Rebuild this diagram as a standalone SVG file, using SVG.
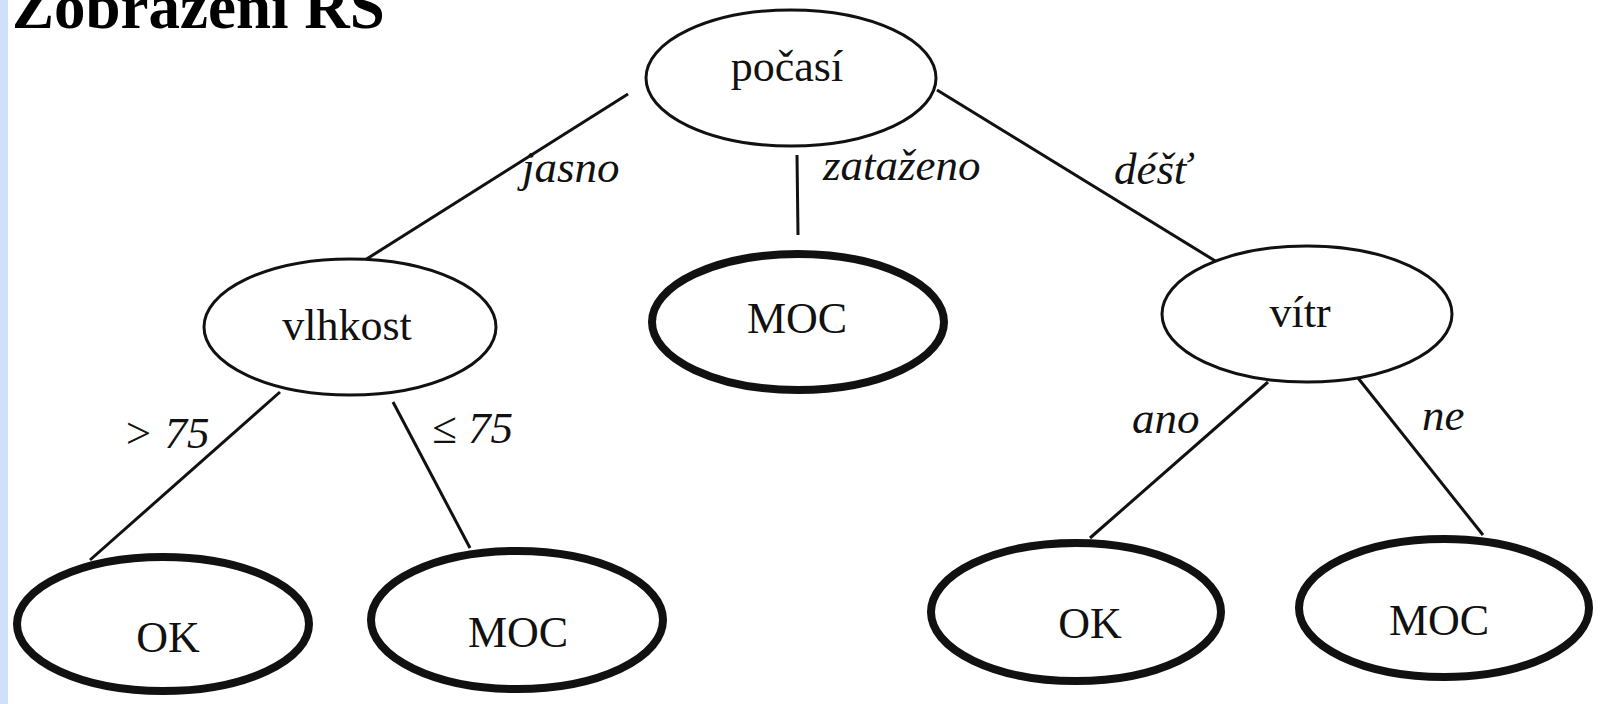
<svg xmlns="http://www.w3.org/2000/svg" width="1603" height="704" viewBox="0 0 1603 704">
<style>
.bg{fill:#ffffff}
.strip{fill:#cfe0f8}
.title{font-family:"Liberation Serif",serif;font-weight:bold;font-size:63px;fill:#000}
.inner{fill:#fff;stroke:#111;stroke-width:3}
.leaf{fill:#fff;stroke:#111;stroke-width:8}
.nt{font-family:"Liberation Serif",serif;font-size:44px;fill:#111;text-anchor:middle}
.lbl{font-family:"Liberation Serif",serif;font-style:italic;font-size:45px;fill:#111}
.edge{stroke:#111;stroke-width:3;fill:none}
</style>
<rect class="bg" x="0" y="0" width="1603" height="704"/>
<rect class="strip" x="0" y="0" width="8" height="704"/>
<text class="title" x="12" y="28">Zobrazení RS</text>
<g id="connectors">
<line class="edge" x1="628" y1="94" x2="365" y2="260"/>
<line class="edge" x1="797" y1="155" x2="798" y2="235"/>
<line class="edge" x1="937" y1="90" x2="1217" y2="262"/>
<line class="edge" x1="280" y1="392" x2="90" y2="560"/>
<line class="edge" x1="393" y1="402" x2="470" y2="548"/>
<line class="edge" x1="1268" y1="382" x2="1090" y2="538"/>
<line class="edge" x1="1358" y1="378" x2="1483" y2="535"/>
<text class="lbl" x="522" y="182">jasno</text>
<text class="lbl" x="823" y="180">zataženo</text>
<text class="lbl" x="1114" y="184">déšť</text>
<text class="lbl" x="123" y="448">&gt; 75</text>
<text class="lbl" x="432" y="443">≤ 75</text>
<text class="lbl" x="1132" y="433">ano</text>
<text class="lbl" x="1422" y="430">ne</text>
</g>
<g id="pocasi">
<ellipse class="inner" cx="791" cy="78" rx="145" ry="68"/>
<text class="nt" x="787" y="81">počasí</text>
</g>
<g id="vlhkost">
<ellipse class="inner" cx="350" cy="327" rx="146" ry="68"/>
<text class="nt" x="347" y="340">vlhkost</text>
</g>
<g id="moc-center">
<ellipse class="leaf" cx="798" cy="322" rx="146" ry="68"/>
<text class="nt" x="797" y="333">MOC</text>
</g>
<g id="vitr">
<ellipse class="inner" cx="1307" cy="314" rx="145" ry="68"/>
<text class="nt" x="1300" y="327">vítr</text>
</g>
<g id="ok-left">
<ellipse class="leaf" cx="163" cy="624" rx="146" ry="67"/>
<text class="nt" x="168" y="652">OK</text>
</g>
<g id="moc-left">
<ellipse class="leaf" cx="517" cy="620" rx="146" ry="69"/>
<text class="nt" x="518" y="647">MOC</text>
</g>
<g id="ok-right">
<ellipse class="leaf" cx="1076" cy="612" rx="145" ry="69"/>
<text class="nt" x="1090" y="638">OK</text>
</g>
<g id="moc-right">
<ellipse class="leaf" cx="1444" cy="608" rx="145" ry="69"/>
<text class="nt" x="1439" y="635">MOC</text>
</g>
</svg>
